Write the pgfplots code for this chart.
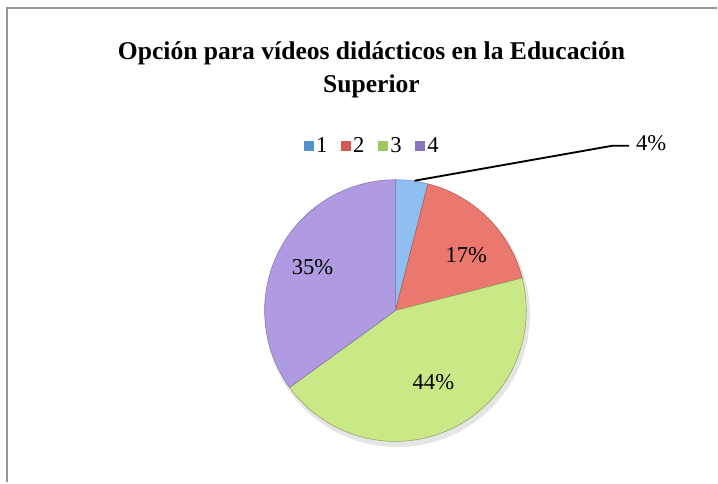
\documentclass[border=0pt]{standalone}
\usepackage{pgfplots}
\pgfplotsset{compat=1.18}
\usepackage{pgfplotstable}
\usepackage{fontspec}
\setmainfont{Liberation Serif}
\definecolor{cA}{RGB}{145,190,240}
\definecolor{cB}{RGB}{235,120,110}
\definecolor{cC}{RGB}{203,232,135}
\definecolor{cD}{RGB}{175,155,225}
\definecolor{lA}{RGB}{85,145,205}
\definecolor{lB}{RGB}{210,90,85}
\definecolor{lC}{RGB}{160,200,95}
\definecolor{lD}{RGB}{140,115,190}
\definecolor{frame}{RGB}{150,150,150}
\pgfplotstableread{
slice value
1 4
2 17
3 44
4 35
}\piedata
\begin{document}
\begin{tikzpicture}
\pgfplotstablegetelem{0}{value}\of\piedata \pgfmathsetmacro{\vA}{\pgfplotsretval}
\pgfplotstablegetelem{1}{value}\of\piedata \pgfmathsetmacro{\vB}{\pgfplotsretval}
\pgfplotstablegetelem{2}{value}\of\piedata \pgfmathsetmacro{\vC}{\pgfplotsretval}
\pgfplotstablegetelem{3}{value}\of\piedata \pgfmathsetmacro{\vD}{\pgfplotsretval}
\pgfmathsetmacro{\aO}{90}
\pgfmathsetmacro{\aA}{90-3.6*\vA}
\pgfmathsetmacro{\aB}{\aA-3.6*\vB}
\pgfmathsetmacro{\aC}{\aB-3.6*\vC}
\pgfmathsetmacro{\aD}{\aC-3.6*\vD}
\begin{axis}[
  x=0.75pt, y=0.75pt,
  xmin=0, xmax=718, ymin=0, ymax=483,
  hide axis, clip=false,
  legend columns=4,
  legend style={draw=none, fill=none, at={(axis cs:373,337)}, anchor=center,
    font=\fontsize{17}{18}\selectfont,
    /tikz/every even column/.append style={column sep=8pt},
    /tikz/every odd column/.append style={column sep=0pt},
    inner sep=0pt, cells={anchor=west}},
]
\path (axis cs:0,0) rectangle (axis cs:718,483);
\draw[frame, line width=1.5pt] (axis cs:7,0) -- (axis cs:7,475) -- (axis cs:718,475);
\node[font=\bfseries\fontsize{19.2}{25}\selectfont, align=center] at (axis cs:372,413)
  {Opción para vídeos didácticos en la Educación\\Superior};
\fill[black, opacity=0.10] (axis cs:398,168) circle[radius=99.5pt];
\addplot[fill=cA, draw=cA!75!black, line width=0.4pt, domain=\aA:\aO, samples=40, variable=\t,
  legend image code/.code={\fill[lA] (0pt,-3.4pt) rectangle (7pt,3.4pt);}]
  ({396+131*cos(t)},{172+131*sin(t)}) -- (axis cs:396,172) -- cycle;
\addlegendentry{1}
\addplot[fill=cB, draw=cB!75!black, line width=0.4pt, domain=\aB:\aA, samples=60, variable=\t,
  legend image code/.code={\fill[lB] (0pt,-3.4pt) rectangle (7pt,3.4pt);}]
  ({396+131*cos(t)},{172+131*sin(t)}) -- (axis cs:396,172) -- cycle;
\addlegendentry{2}
\addplot[fill=cC, draw=cC!70!black, line width=0.4pt, domain=\aC:\aB, samples=120, variable=\t,
  legend image code/.code={\fill[lC] (0pt,-3.4pt) rectangle (7pt,3.4pt);}]
  ({396+131*cos(t)},{172+131*sin(t)}) -- (axis cs:396,172) -- cycle;
\addlegendentry{3}
\addplot[fill=cD, draw=cD!75!black, line width=0.4pt, domain=\aD:\aC, samples=100, variable=\t,
  legend image code/.code={\fill[lD] (0pt,-3.4pt) rectangle (7pt,3.4pt);}]
  ({396+131*cos(t)},{172+131*sin(t)}) -- (axis cs:396,172) -- cycle;
\addlegendentry{4}
\draw[black, line width=1.4pt] (axis cs:415,302) -- (axis cs:613,337) -- (axis cs:630,337);
\node[font=\fontsize{17}{18}\selectfont] at (axis cs:652,340) {4\%};
\node[font=\fontsize{17}{18}\selectfont] at (axis cs:467,228) {17\%};
\node[font=\fontsize{17}{18}\selectfont] at (axis cs:434,100) {44\%};
\node[font=\fontsize{17}{18}\selectfont] at (axis cs:313,215) {35\%};
\end{axis}
\end{tikzpicture}
\end{document}
